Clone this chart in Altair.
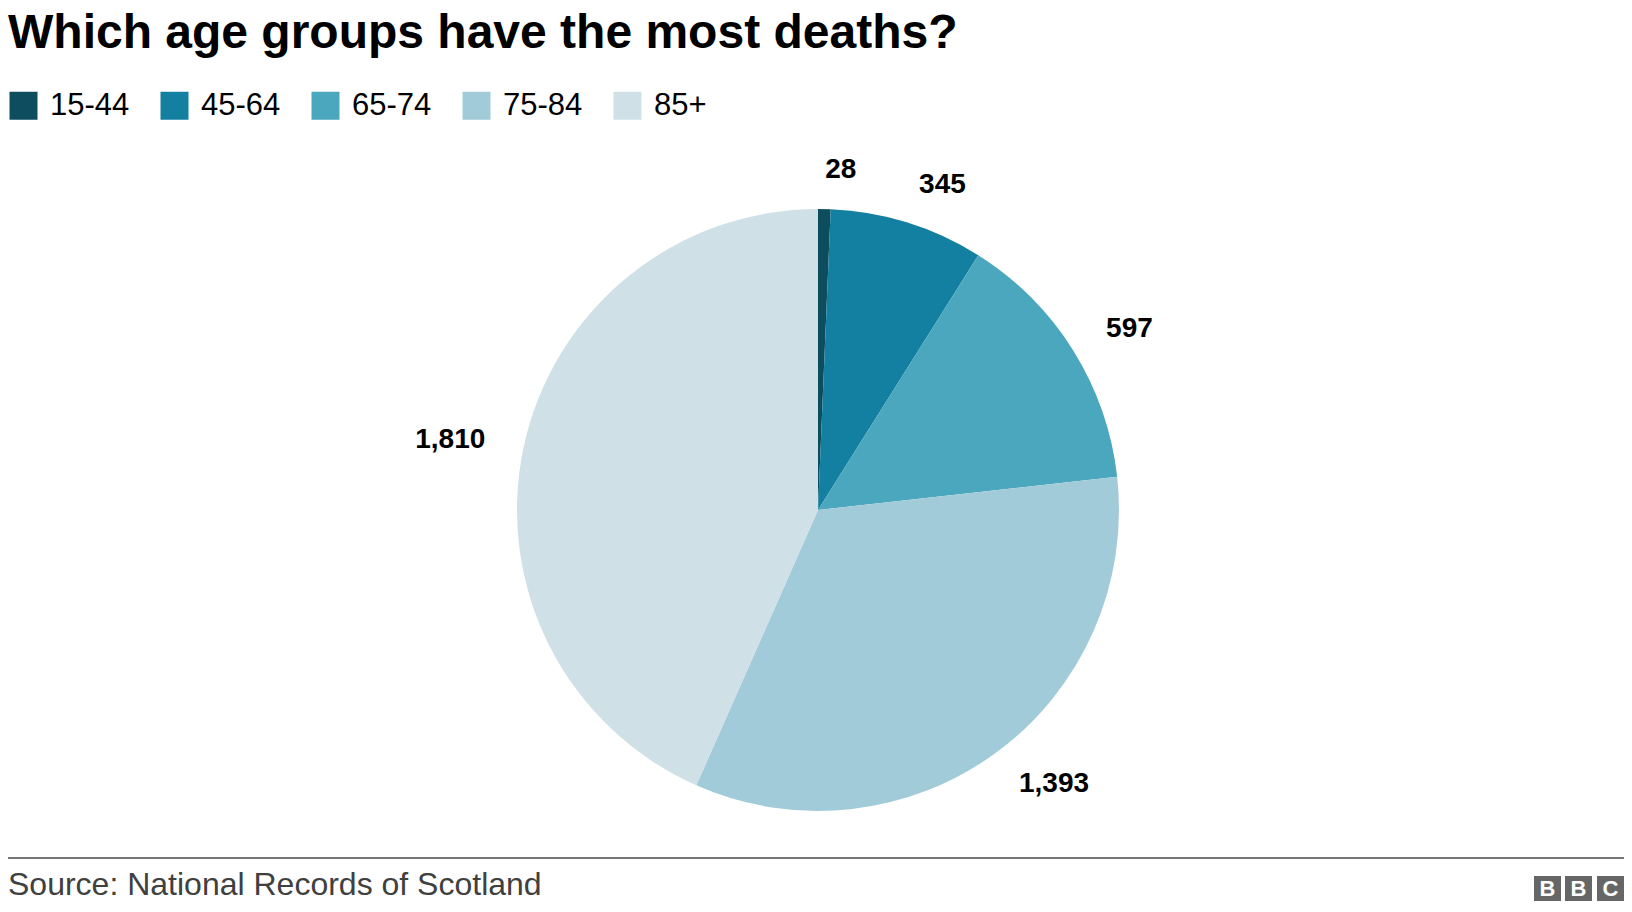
import altair as alt
import pandas as pd

title_text = "Which age groups have the most deaths?"
source_text = "Source: National Records of Scotland"
groups = ["15-44", "45-64", "65-74", "75-84", "85+"]
deaths = [28, 345, 597, 1393, 1810]
labels = ["28", "345", "597", "1,393", "1,810"]
colors = ["#0d4d5e", "#1380a1", "#4ba7bd", "#a2cbd9", "#cfe1e6"]
logo_letters = ["B", "B", "C"]

df = pd.DataFrame({"group": groups, "deaths": deaths, "label": labels,
                   "order": list(range(len(groups)))})
total = sum(deaths)

W, H = 1616, 896
CX, CY = 810, 502
FONT = "Liberation Sans"

base = alt.Chart(df)

pie = base.mark_arc(outerRadius=301).encode(
    theta=alt.Theta("deaths:Q", stack=True),
    color=alt.Color(
        "group:N",
        scale=alt.Scale(domain=groups, range=colors),
        legend=alt.Legend(
            title=None, orient="none", legendX=0, legendY=82,
            direction="horizontal", symbolType="square", symbolSize=784,
            symbolStrokeWidth=0, symbolOpacity=1, labelFontSize=31,
            labelFont=FONT, labelColor="#000000", labelOffset=11,
            columnPadding=29, padding=0, labelLimit=300,
        ),
    ),
    order=alt.Order("order:Q"),
    x=alt.value(CX),
    y=alt.value(CY),
)

lab = base.transform_window(
    cum="sum(deaths)", sort=[alt.SortField("order")], frame=[None, 0]
).transform_calculate(mid="datum.cum - datum.deaths / 2")

def label_layer(cond, align):
    return lab.transform_filter(cond).mark_text(
        radius=340, align=align, baseline="middle", fontSize=28,
        fontWeight="bold", font=FONT, color="#000000",
    ).encode(
        theta=alt.Theta("mid:Q", scale=alt.Scale(domain=[0, total])),
        text="label:N",
        x=alt.value(CX),
        y=alt.value(CY),
    )

right_labels = label_layer(f"datum.mid < {total / 2}", "left")
left_labels = label_layer(f"datum.mid >= {total / 2}", "right")

title = alt.Chart(pd.DataFrame({"t": [title_text]})).mark_text(
    align="left", baseline="alphabetic", fontSize=48, fontWeight="bold",
    font=FONT, color="#000000",
).encode(text="t:N", x=alt.value(0), y=alt.value(40))

rule = alt.Chart(pd.DataFrame({"t": [0]})).mark_rule(
    color="#777777", strokeWidth=2
).encode(x=alt.value(0), x2=alt.value(W), y=alt.value(850))

source = alt.Chart(pd.DataFrame({"t": [source_text]})).mark_text(
    align="left", baseline="alphabetic", fontSize=32, font=FONT, color="#404040",
).encode(text="t:N", x=alt.value(0), y=alt.value(887))

logo_layers = []
box_x = [W - 90, W - 59, W - 27]
for i, letter in enumerate(logo_letters):
    d = pd.DataFrame({"t": [letter]})
    logo_layers.append(
        alt.Chart(d).mark_rect(color="#666666").encode(
            x=alt.value(box_x[i]), x2=alt.value(box_x[i] + 27),
            y=alt.value(868), y2=alt.value(893),
        )
    )
    logo_layers.append(
        alt.Chart(d).mark_text(
            align="center", baseline="middle", fontSize=22, fontWeight="bold",
            font=FONT, color="#ffffff",
        ).encode(text="t:N", x=alt.value(box_x[i] + 13.5), y=alt.value(881))
    )

chart = alt.layer(
    pie, right_labels, left_labels, title, rule, source, *logo_layers
).resolve_scale(theta="independent").properties(
    width=W, height=H, autosize=alt.AutoSizeParams(type="none"), padding=0,
    background="#ffffff",
).configure_view(stroke=None)

chart.save("out.html", embed_options={"renderer": "svg", "actions": False})
